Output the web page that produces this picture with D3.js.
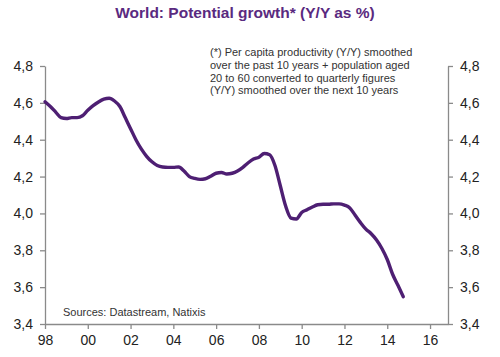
<!DOCTYPE html>
<html><head><meta charset="utf-8">
<script src="https://cdn.jsdelivr.net/npm/d3@7"></script>
<style>body{margin:0;background:#fff}svg{display:block}</style>
</head><body><svg id="c" width="500" height="357"></svg>
<script>
const startYear = 1998;
const values = [
 4.606,4.58,4.55,4.52, 4.515,4.52,4.52,4.53, 4.56,4.585,4.605,4.62,
 4.625,4.61,4.58,4.52, 4.46,4.40,4.35,4.31, 4.28,4.26,4.252,4.25,
 4.25,4.252,4.23,4.20, 4.19,4.185,4.188,4.202, 4.218,4.222,4.214,4.218,
 4.23,4.25,4.275,4.295, 4.305,4.325,4.318,4.26, 4.15,4.04,3.975,3.97,
 4.005,4.02,4.035,4.047, 4.05,4.05,4.052,4.052, 4.045,4.03,3.99,3.95,
 3.915,3.89,3.856,3.81, 3.75,3.67,3.61,3.548
];
const xTickYears = [1998,2000,2002,2004,2006,2008,2010,2012,2014,2016];
const yTicks = [3.4,3.6,3.8,4.0,4.2,4.4,4.6,4.8];
const title = "World: Potential growth* (Y/Y as %)";
const noteLines = ["(*) Per capita productivity (Y/Y) smoothed","over the past 10 years + population aged","20 to 60 converted to quarterly figures","(Y/Y) smoothed over the next 10 years"];
const sourceText = "Sources: Datastream, Natixis";

const data = values.map((v,i)=>({t:startYear+i*0.25,v}));
const svg = d3.select("#c");
const L=45,R=448,T=66,B=324;
const x = d3.scaleLinear().domain([1998,2016.84]).range([L,R]);
const y = d3.scaleLinear().domain([3.4,4.8]).range([B,T]);
const axisCol="#8a8a8a", font="Liberation Sans, Arial, sans-serif";
const fmt = d=>d3.format(".1f")(d).replace(".",",");

svg.append("text").attr("x",245).attr("y",18).attr("text-anchor","middle")
  .attr("font-family",font).attr("font-weight","bold").attr("font-size",15.5)
  .attr("fill","#5a2a80").text(title);

function styleAxis(g){
  g.selectAll("path,line").attr("stroke",axisCol).attr("stroke-width",1.3);
  g.selectAll("text").attr("font-family",font).attr("font-size",14).attr("fill","#222");
}
svg.append("g").attr("transform",`translate(${L},0)`)
  .call(d3.axisLeft(y).tickValues(yTicks).tickFormat(fmt).tickSize(5).tickSizeOuter(0).tickPadding(7)).call(styleAxis);
svg.append("g").attr("transform",`translate(${R},0)`)
  .call(d3.axisRight(y).tickValues(yTicks).tickFormat(fmt).tickSize(5).tickSizeOuter(0).tickPadding(7)).call(styleAxis);
svg.append("g").attr("transform",`translate(0,${B})`)
  .call(d3.axisBottom(x).tickValues(xTickYears).tickFormat(d=>String(d%100).padStart(2,"0")).tickSize(5).tickSizeOuter(0).tickPadding(6)).call(styleAxis);

const nt = svg.append("text").attr("font-family",font).attr("font-size",11).attr("fill","#333");
noteLines.forEach((s,i)=>nt.append("tspan").attr("x",210).attr("y",56+i*12.8).text(s));
svg.append("text").attr("x",63).attr("y",316).attr("font-family",font).attr("font-size",11)
  .attr("fill","#333").text(sourceText);

svg.append("path").datum(data).attr("fill","none").attr("stroke","#4e1f73")
  .attr("stroke-width",3.4).attr("stroke-linejoin","round").attr("stroke-linecap","round")
  .attr("d",d3.line().x(d=>x(d.t)).y(d=>y(d.v)).curve(d3.curveMonotoneX));
</script></body></html>
